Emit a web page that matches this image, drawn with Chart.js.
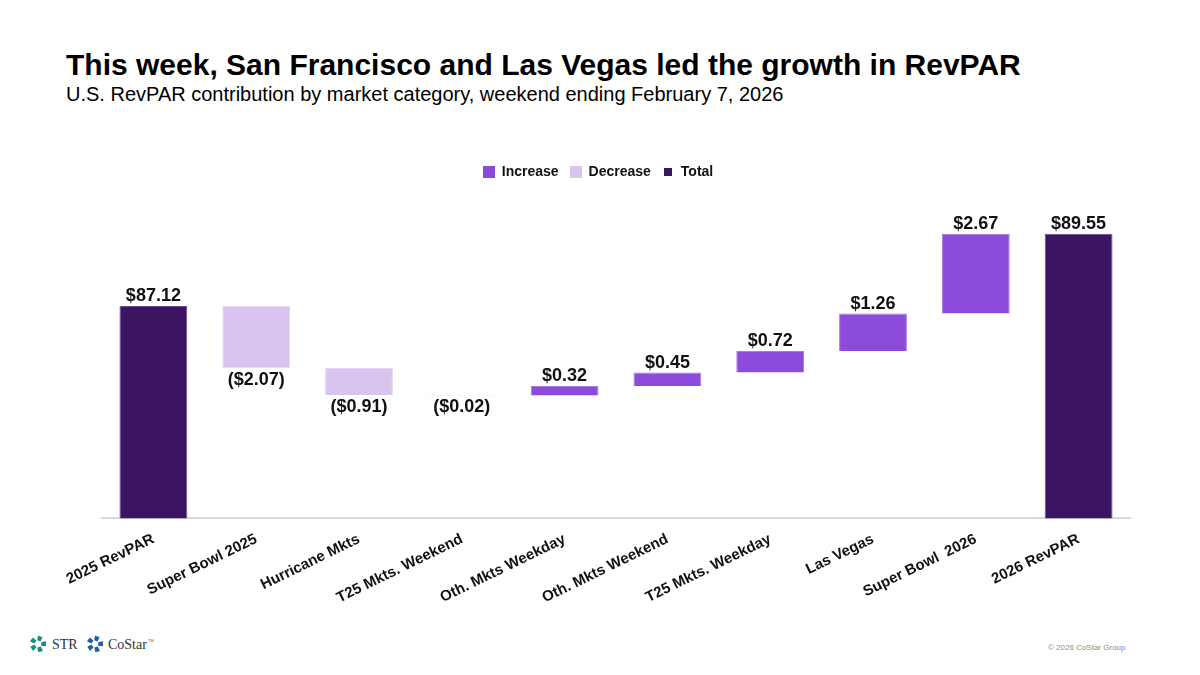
<!DOCTYPE html>
<html>
<head>
<meta charset="utf-8">
<script src="https://cdn.jsdelivr.net/npm/chart.js@4.4.1/dist/chart.umd.min.js"></script>
<style>
  body { margin: 0; width: 1200px; height: 675px; background: #fff; position: relative; overflow: hidden;
         font-family: "Liberation Sans", Arial, sans-serif; }
  #title { position: absolute; left: 66px; top: 50px; font-size: 30px; line-height: 30px; font-weight: bold; color: #000; white-space: nowrap; }
  #sub { position: absolute; left: 66px; top: 84px; font-size: 20px; line-height: 20px; color: #000; white-space: nowrap; }
  #wrap { position: absolute; left: 0; top: 140px; width: 1200px; height: 490px; }
  #logos { position: absolute; left: 28px; top: 634px; }
  #copy { position: absolute; left: 1048px; top: 643px; font-size: 8px; color: #8c8c8c; white-space: nowrap; }
</style>
</head>
<body>
<div id="title">This week, San Francisco and Las Vegas led the growth in RevPAR</div>
<div id="sub">U.S. RevPAR contribution by market category, weekend ending February 7, 2026</div>
<div id="wrap"><canvas id="chart"></canvas></div>

<svg id="logos" width="140" height="24" viewBox="0 0 140 24">
  <defs>
    <path id="blade" d="M10,1.5 L14.5,3.2 L12.6,7.6 L9.2,6.2 Z" />
  </defs>
  <g fill="#17907f">
    <use href="#blade" transform="rotate(0 10 10)"/>
    <use href="#blade" transform="rotate(72 10 10)"/>
    <use href="#blade" transform="rotate(144 10 10)"/>
    <use href="#blade" transform="rotate(216 10 10)"/>
    <use href="#blade" transform="rotate(288 10 10)"/>
  </g>
  <text x="24" y="15" font-family="Liberation Serif, serif" font-size="14" fill="#333">STR</text>
  <g fill="#1f5ea8" transform="translate(57 0)">
    <use href="#blade" transform="rotate(0 10 10)"/>
    <use href="#blade" transform="rotate(72 10 10)"/>
    <use href="#blade" transform="rotate(144 10 10)"/>
    <use href="#blade" transform="rotate(216 10 10)"/>
    <use href="#blade" transform="rotate(288 10 10)"/>
  </g>
  <text x="80" y="15" font-family="Liberation Serif, serif" font-size="14" fill="#333">CoStar</text>
  <text x="120" y="8" font-family="Liberation Sans, sans-serif" font-size="4" fill="#666">TM</text>
</svg>
<div id="copy">© 2026 CoStar Group</div>

<script>
// waterfall data
const categories = ['2025 RevPAR', 'Super Bowl 2025', 'Hurricane Mkts', 'T25 Mkts. Weekend',
  'Oth. Mkts Weekday', 'Oth. Mkts Weekend', 'T25 Mkts. Weekday', 'Las Vegas', 'Super Bowl  2026', '2026 RevPAR'];
const totals  = [87.12, null, null, null, null, null, null, null, null, 89.55];
const changes = [null, -2.07, -0.91, -0.02, 0.32, 0.45, 0.72, 1.26, 2.67, null];

const yMin = 80;
const yMax = 91.05;

const colors = {
  increase: '#8c4bdb',
  decrease: '#d9c4f0',
  total: '#3b1462'
};

// floating ranges built from the running total
const incData = [], decData = [], totData = [];
let running = 0;
categories.forEach((c, i) => {
  if (totals[i] !== null) {
    running = totals[i];
    totData.push(totals[i]); incData.push(null); decData.push(null);
  } else {
    const from = running, to = running + changes[i];
    running = to;
    totData.push(null);
    if (changes[i] >= 0) { incData.push([from, to]); decData.push(null); }
    else { decData.push([to, from]); incData.push(null); }
  }
});

function fmt(v) {
  return v < 0 ? '($' + Math.abs(v).toFixed(2) + ')' : '$' + v.toFixed(2);
}

function legendSwatch(color, size) {
  const c = document.createElement('canvas');
  c.width = size; c.height = size;
  const g = c.getContext('2d');
  g.fillStyle = color; g.fillRect(0, 0, size, size);
  return c;
}

const valueLabels = {
  id: 'valueLabels',
  afterDatasetsDraw(chart) {
    const ctx = chart.ctx;
    ctx.save();
    ctx.font = 'bold 18px "Liberation Sans", Arial, sans-serif';
    ctx.fillStyle = '#111';
    ctx.textAlign = 'center';
    chart.data.datasets.forEach((ds, di) => {
      const meta = chart.getDatasetMeta(di);
      meta.data.forEach((bar, i) => {
        if (ds.data[i] === null) return;
        const top = Math.min(bar.y, bar.base);
        const bottom = Math.max(bar.y, bar.base);
        if (ds.kind === 'decrease') {
          ctx.textBaseline = 'top';
          ctx.fillText(fmt(changes[i]), bar.x, bottom + 3);
        } else {
          ctx.textBaseline = 'alphabetic';
          const v = ds.kind === 'total' ? totals[i] : changes[i];
          ctx.fillText(fmt(v), bar.x, top - 5);
        }
      });
    });
    ctx.restore();
  }
};

const barStyle = { categoryPercentage: 1, barPercentage: 0.66, grouped: false, borderWidth: 1 };

new Chart(document.getElementById('chart'), {
  type: 'bar',
  data: {
    labels: categories,
    datasets: [
      { label: 'Increase', kind: 'increase', data: incData, backgroundColor: colors.increase, borderColor: '#a77be6', ...barStyle },
      { label: 'Decrease', kind: 'decrease', data: decData, backgroundColor: colors.decrease, borderColor: '#e6d8f6', ...barStyle },
      { label: 'Total', kind: 'total', data: totData, backgroundColor: colors.total, borderColor: '#6a4a92', ...barStyle }
    ]
  },
  options: {
    responsive: true,
    maintainAspectRatio: false,
    animation: false,
    layout: { padding: { left: 66, right: 70, top: 14, bottom: 11 } },
    plugins: {
      legend: {
        position: 'top',
        labels: {
          color: '#111',
          font: { family: '"Liberation Sans", Arial, sans-serif', size: 14, weight: 'bold' },
          boxWidth: 12,
          boxHeight: 12,
          padding: 11,
          usePointStyle: true,
          generateLabels(chart) {
            return chart.data.datasets.map((ds, i) => ({
              text: ds.label,
              pointStyle: legendSwatch(ds.backgroundColor, ds.kind === 'total' ? 8 : 12),
              fillStyle: ds.backgroundColor,
              strokeStyle: ds.backgroundColor,
              lineWidth: 0,
              fontColor: '#111',
              hidden: false,
              datasetIndex: i
            }));
          }
        }
      },
      tooltip: { enabled: false }
    },
    scales: {
      x: {
        grid: { display: false, drawTicks: false },
        border: { display: true, color: '#d9d9d9', width: 2 },
        ticks: {
          color: '#111',
          font: { family: '"Liberation Sans", Arial, sans-serif', size: 15, weight: 'bold' },
          minRotation: 26,
          maxRotation: 26,
          padding: 12
        }
      },
      y: {
        min: yMin,
        max: yMax,
        grid: { display: false },
        border: { display: false },
        ticks: { display: false },
        afterFit(scale) { scale.width = 36; }
      }
    }
  },
  plugins: [valueLabels]
});
</script>
</body>
</html>
